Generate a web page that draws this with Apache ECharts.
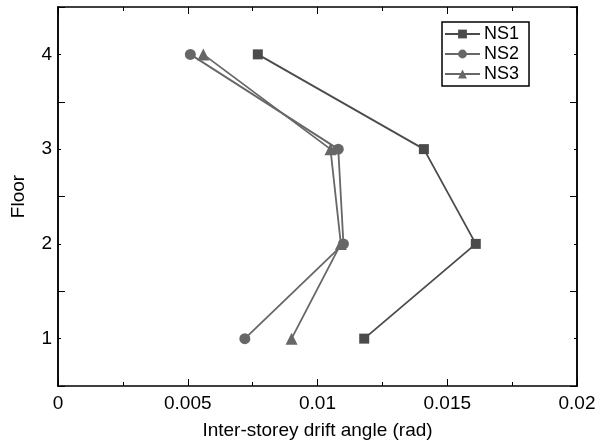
<!DOCTYPE html>
<html>
<head>
<meta charset="utf-8">
<script src="https://cdn.jsdelivr.net/npm/echarts@6/dist/echarts.min.js"></script>
<style>
  html, body { margin: 0; padding: 0; background: #fff; }
  #chart { width: 608px; height: 446px; }
</style>
</head>
<body>
<div id="chart"></div>
<script>
// floors 1..4, drift angles
const floors = [1, 2, 3, 4]
const ns1 = [0.0118, 0.0161, 0.0141, 0.0077]
const ns2 = [0.0072, 0.0110, 0.0108, 0.0051]
const ns3 = [0.0090, 0.0109, 0.0105, 0.0056]
const seriesNames = ['NS1', 'NS2', 'NS3']
const xTickLabels = ['0', '0.005', '0.01', '0.015', '0.02']

const font = 'Liberation Sans, Arial, sans-serif'
const pair = (xs) => xs.map((v, i) => [v, floors[i]])

const xBase = {
  type: 'value', min: 0, max: 0.02, interval: 0.005,
  axisLine: { show: true, lineStyle: { color: '#000', width: 1.5 } },
  axisTick: { show: true, inside: true, length: 7, lineStyle: { color: '#000', width: 1 } },
  minorTick: { show: true, splitNumber: 2, length: 4, lineStyle: { color: '#000', width: 1 } },
  splitLine: { show: false },
}
const yBase = {
  type: 'value', min: 0.5, max: 4.5,
  axisLine: { show: true, lineStyle: { color: '#000', width: 1.5 } },
  splitLine: { show: false },
}

const charts = echarts.init(document.getElementById('chart'))
charts.setOption({
  backgroundColor: '#fff',
  animation: false,
  grid: { left: 58, right: 31, top: 7, bottom: 60 },
  legend: {
    orient: 'vertical',
    left: 442, top: 22,
    data: seriesNames,
    borderColor: '#000', borderWidth: 1.5,
    backgroundColor: '#fff',
    padding: [3, 10, 3, 2],
    itemGap: 2,
    itemWidth: 35, itemHeight: 11,
    textStyle: { fontFamily: font, fontSize: 18, color: '#000', padding: [0, 0, 0, -1] },
  },
  xAxis: [
    Object.assign({}, xBase, {
      position: 'bottom',
      name: 'Inter-storey drift angle (rad)',
      nameLocation: 'middle', nameGap: 35,
      nameTextStyle: { fontFamily: font, fontSize: 19, color: '#000' },
      axisLabel: {
        fontFamily: font, fontSize: 19, color: '#000', margin: 8,
        formatter: (v) => xTickLabels[Math.round(v / 0.005)] || '',
      },
    }),
    Object.assign({}, xBase, { position: 'top', axisLabel: { show: false } }),
  ],
  yAxis: [
    Object.assign({}, yBase, {
      position: 'left', interval: 0.5,
      name: 'Floor', nameLocation: 'middle', nameGap: 30,
      nameTextStyle: { fontFamily: font, fontSize: 19, color: '#000' },
      axisTick: { show: true, inside: true, length: 3, lineStyle: { color: '#000' } },
      axisLabel: {
        fontFamily: font, fontSize: 19, color: '#000', margin: 6,
        formatter: (v) => (Number.isInteger(v) ? String(v) : ''),
      },
    }),
    Object.assign({}, yBase, {
      position: 'left', interval: 1,
      axisTick: { show: true, inside: true, length: 7, lineStyle: { color: '#000' } },
      axisLabel: { show: false },
    }),
    Object.assign({}, yBase, {
      position: 'right', interval: 0.5,
      axisTick: { show: true, inside: true, length: 3, lineStyle: { color: '#000' } },
      axisLabel: { show: false },
    }),
    Object.assign({}, yBase, {
      position: 'right', interval: 1,
      axisTick: { show: true, inside: true, length: 7, lineStyle: { color: '#000' } },
      axisLabel: { show: false },
    }),
  ],
  series: [
    {
      name: 'NS1', type: 'line', data: pair(ns1),
      symbol: 'rect', symbolSize: 10,
      itemStyle: { color: '#4b4b4b' },
      lineStyle: { color: '#4b4b4b', width: 1.8 },
    },
    {
      name: 'NS2', type: 'line', data: pair(ns2),
      symbol: 'circle', symbolSize: 11,
      itemStyle: { color: '#676767' },
      lineStyle: { color: '#676767', width: 1.8 },
    },
    {
      name: 'NS3', type: 'line', data: pair(ns3),
      symbol: 'triangle', symbolSize: 12,
      itemStyle: { color: '#676767' },
      lineStyle: { color: '#676767', width: 1.8 },
    },
  ],
})
</script>
</body>
</html>
